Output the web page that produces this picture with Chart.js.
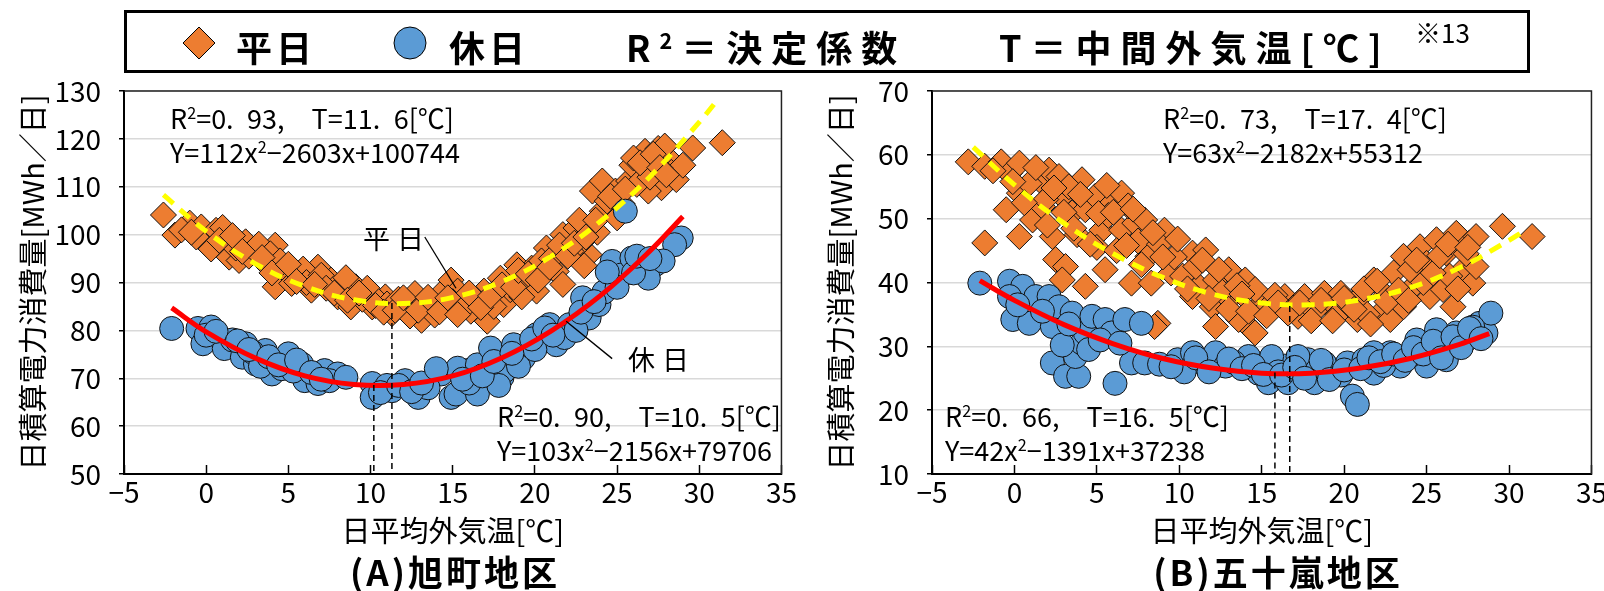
<!DOCTYPE html>
<html>
<head>
<meta charset="utf-8">
<script src="https://cdn.jsdelivr.net/npm/chart.js@4.4.1/dist/chart.umd.min.js"></script>
<style>
  html, body { margin: 0; padding: 0; background: #fff; }
  body { width: 1604px; height: 591px; position: relative; overflow: hidden;
         font-family: "Noto Sans CJK JP", "Noto Sans", sans-serif; color: #000; }
  canvas { position: absolute; top: 0; }
  .t { position: absolute; white-space: nowrap; line-height: 1; transform: translateY(-50%); }
  .ann { font-size: 27px; }
  .lbl { font-size: 27px; letter-spacing: 7px; }
  .leg { font-size: 36px; font-weight: bold; letter-spacing: 4px; }
  .wide { letter-spacing: 9px; }
  .sub { font-size: 35px; font-weight: bold; letter-spacing: 3px; transform: translate(-50%, -50%); }
  sup { font-size: 0.6em; vertical-align: 0.6em; line-height: 0; }
  #box { position: absolute; left: 124px; top: 10px; width: 1400px; height: 57px; border: 3px solid #000; }
  svg { position: absolute; }
</style>
</head>
<body>
<canvas id="chartA" width="808" height="591" style="left:0"></canvas>
<canvas id="chartB" width="810" height="591" style="left:808px"></canvas>

<div id="box"></div>
<svg style="left:182px;top:26px" width="34" height="34"><polygon points="17,1 33,17 17,33 1,17" fill="#ED7D31" stroke="#000" stroke-width="1"/></svg>
<div class="t leg" style="left:236px;top:46px">平日</div>
<svg style="left:393px;top:26px" width="34" height="34"><circle cx="17" cy="17" r="16" fill="#5B9BD5" stroke="#000" stroke-width="1"/></svg>
<div class="t leg" style="left:449px;top:46px">休日</div>
<div class="t leg wide" style="left:626px;top:46px">R<sup>2</sup>＝決定係数</div>
<div class="t leg wide" style="left:999px;top:46px">T＝中間外気温[℃]</div>
<div class="t" style="left:1415px;top:32px;font-size:26px">※13</div>

<div class="t ann" style="left:170px;top:117px">R<sup>2</sup>=0.&#8194;93,&#8195;T=11.&#8194;6[℃]</div>
<div class="t ann" style="left:170px;top:151px">Y=112x<sup>2</sup>−2603x+100744</div>
<div class="t ann" style="left:497px;top:415px">R<sup>2</sup>=0.&#8194;90,&#8195;T=10.&#8194;5[℃]</div>
<div class="t ann" style="left:497px;top:449px">Y=103x<sup>2</sup>−2156x+79706</div>
<div class="t lbl" style="left:363px;top:237px">平日</div>
<div class="t lbl" style="left:628px;top:358px">休日</div>

<div class="t ann" style="left:1163px;top:117px">R<sup>2</sup>=0.&#8194;73,&#8195;T=17.&#8194;4[℃]</div>
<div class="t ann" style="left:1163px;top:151px">Y=63x<sup>2</sup>−2182x+55312</div>
<div class="t ann" style="left:945px;top:415px">R<sup>2</sup>=0.&#8194;66,&#8195;T=16.&#8194;5[℃]</div>
<div class="t ann" style="left:945px;top:449px">Y=42x<sup>2</sup>−1391x+37238</div>

<div class="t sub" style="left:455px;top:570px">(A)旭町地区</div>
<div class="t sub" style="left:1278px;top:570px">(B)五十嵐地区</div>

<script>
// axis ranges
const xRange = [-5, 35];
const aYRange = [50, 130];
const bYRange = [10, 70];

// (A) 旭町 weekday
const aWdX = [-2.6,-1.9,-1.0,-0.3,0.0,0.6,1.2,1.4,2.4,2.0,2.9,4.2,3.6,4.2,4.8,5.6,6.8,6.4,7.6,8.0,9.1,8.8,10.1,10.9,11.3,12.1,12.7,13.1,13.7,14.5,14.9,14.5,15.3,16.1,17.1,16.9,17.9,18.1,18.9,19.5,20.1,20.7,21.3,21.7,21.7,22.5,23.3,22.9,23.5,24.1,24.1,24.9,25.7,26.5,26.7,27.3,27.7,28.1,26.9,29.6,31.4,
  -0.6,0.3,1.0,1.8,2.6,3.2,3.9,4.5,5.2,5.9,6.1,7.0,7.3,8.3,8.5,9.5,9.8,10.5,11.0,11.7,12.4,13.3,13.9,15.0,15.6,16.4,17.5,18.5,19.2,19.8,20.4,21.0,22.2,22.7,23.0,23.8,24.4,25.3,25.9,26.2,27.0,27.5,28.3,28.6,29.0,26.0,27.9,
  -1.5,-0.9,0.8,1.6,2.2,3.4,4.0,5.0,5.5,6.6,7.8,8.6,9.3,10.3,10.8,11.5,12.0,12.9,13.5,14.2,14.7,15.3,16.0,16.7,17.3,18.0,18.7,19.0,19.6,20.2,20.9,21.5,22.0,22.4,23.1,23.7,24.6,25.0,25.5,26.4,27.2,27.6,28.0];
const aWdY = [104.1,99.9,102.4,101.6,98.1,100.9,99.2,95.3,98.5,94.6,96.7,97.8,94.0,89.1,92.6,91.2,93.2,88.4,90.5,87.0,89.1,84.9,84.9,87.0,83.5,84.9,87.7,82.1,84.9,88.4,90.5,85.4,88.2,84.0,81.9,88.2,90.9,85.4,93.7,90.9,88.2,97.2,92.3,89.6,100.0,101.4,95.8,98.6,109.1,111.2,104.9,109.1,111.2,112.6,117.4,114.7,109.8,116.0,109.1,118.1,119.2,
  99.5,97.0,101.5,97.2,95.5,98.0,96.0,94.5,89.8,92.8,90.0,91.5,88.8,88.5,91.0,86.5,88.8,86.0,85.5,86.5,83.0,86.0,83.2,86.0,84.5,86.5,85.0,88.5,87.0,93.0,94.5,95.0,96.5,103.0,93.5,100.5,107.0,106.5,114.5,110.5,112.0,118.0,113.0,111.5,114.5,116.0,118.5,
  101.0,100.5,98.8,99.8,96.5,95.2,92.0,93.8,90.2,89.6,87.8,86.3,87.8,85.2,83.8,84.2,86.8,84.2,86.9,83.9,86.8,83.3,87.8,84.8,87.2,89.5,89.0,92.5,91.8,90.5,93.2,97.8,95.5,98.2,99.5,103.0,108.0,103.5,109.5,115.0,116.8,114.0,112.5];
// (A) 旭町 holiday
const aHdX = [-2.1,-0.5,-0.2,0.3,0.9,1.1,2.4,2.2,3.0,3.6,4.0,4.2,5.0,5.8,6.0,7.2,8.0,6.8,10.1,10.1,11.3,12.1,12.9,14.3,14.9,15.2,16.5,15.9,17.1,18.0,18.3,19.5,20.5,21.4,15.3,16.5,17.3,18.1,18.7,19.3,20.1,20.9,21.3,22.1,22.9,23.3,23.9,24.7,25.3,25.9,26.5,27.3,25.5,28.9,28.5,26.9,
  1.6,2.8,3.3,4.6,5.3,7.5,11.0,13.5,16.0,17.8,19.0,20.0,21.8,24.2,25.0,26.0,27.8,22.5,
  0.0,0.6,1.9,2.6,3.8,4.4,5.5,6.4,7.0,8.5,10.6,11.7,12.5,13.1,14.0,15.6,16.8,17.5,18.6,19.8,20.6,21.1,22.8,23.6,24.4,26.2,27.0];
const aHdY = [80.4,80.4,77.2,80.7,78.3,76.2,77.2,74.4,73.0,75.8,70.9,73.7,75.1,73.0,69.5,71.6,70.9,68.9,68.9,66.0,67.4,69.5,66.0,70.9,66.0,66.7,66.7,71.6,73.0,70.2,74.4,75.8,77.9,79.3,72.1,72.8,76.3,71.4,77.0,74.2,79.1,81.2,77.0,81.2,86.8,82.6,85.4,94.4,91.6,95.1,93.0,93.7,104.9,99.3,97.9,90.9,
  78.0,75.5,72.5,72.0,71.5,69.5,68.5,68.0,69.0,68.5,72.5,76.0,78.5,88.0,89.0,92.0,94.5,80.0,
  79.0,79.8,77.8,76.0,74.5,72.8,73.8,71.2,69.8,70.2,67.0,68.5,67.2,69.0,72.0,69.8,70.5,73.5,75.2,78.2,80.5,79.0,83.8,86.0,92.2,95.5,95.0];
// (A) fitted curves
const aWdFitX = [-2.6,0,3,6,9,12,15,18,21,24,27,30,31.2];
const aWdFitY = [108.3,100.7,93.9,89.2,86.4,85.6,86.9,90.2,95.5,102.8,112.1,123.5,128.5];
const aHdFitX = [-2.1,0,3,6,9,12,15,18,21,24,27,29];
const aHdFitY = [84.7,79.7,74.2,70.5,68.7,68.7,70.5,74.3,79.9,87.3,96.6,103.8];
// (A) dashed markers at the minimum temperature, and label leaders
const aMinX = [10.2, 11.3];
const aMinY = [68.6, 85.7];
const aLeadX = [[13.3, 15.2], [24.7, 21.9]];
const aLeadY = [[99.5, 88.8], [74.1, 81.9]];

// (B) 五十嵐 weekday
const bWdX = [-2.8,-1.8,-1.8,-0.8,-0.3,0.3,-0.5,0.3,1.1,1.5,1.7,0.3,2.1,2.7,2.3,2.5,3.1,2.9,3.5,4.1,4.3,4.9,5.3,4.3,5.5,5.9,6.5,6.5,7.3,7.9,7.1,8.1,8.7,9.1,8.3,9.5,10.8,11.6,11.2,12.0,10.8,12.2,13.0,14.0,13.2,14.4,13.6,15.0,12.2,8.5,2.9,
  14.6,14.6,15.4,16.4,17.2,17.6,18.8,19.2,19.8,20.8,21.0,21.8,22.2,22.8,23.0,23.6,23.6,24.2,24.6,25.0,25.2,25.6,26.0,26.2,26.8,26.6,27.2,27.6,28.0,27.8,28.0,29.6,31.4,
  0.9,1.9,3.3,3.8,5.0,5.7,6.2,6.9,7.5,8.8,9.7,10.2,11.0,12.6,13.5,15.8,16.9,18.2,19.6,20.3,21.4,22.5,24.0,24.8,26.4,27.4,
  -1.3,-0.1,0.6,1.3,2.0,2.4,3.0,3.6,4.0,4.6,5.1,5.6,6.0,6.8,7.2,7.7,8.4,9.0,9.9,10.5,11.4,11.8,12.4,13.0,13.8,14.2,15.3,16.0,16.6,17.3,18.0,18.6,19.3,20.0,20.6,21.2,21.6,22.0,22.6,23.3,23.9,24.4,25.4,25.8,26.3,26.9,27.5];
const bWdY = [58.9,58.2,46.2,58.9,57.1,58.7,51.4,54.0,49.8,56.1,51.9,47.2,57.6,56.6,47.2,43.6,42.5,53.5,50.9,56.1,51.4,53.5,48.2,39.4,42.0,52.4,54.0,48.2,49.3,49.8,39.9,44.1,33.6,48.2,39.9,41.5,44.6,45.1,39.4,36.2,37.8,40.4,42.0,40.4,37.8,32.6,34.2,36.8,33.1,33.1,40.4,
  38.9,32.1,36.2,37.8,34.7,37.8,38.3,36.2,38.3,34.2,37.8,40.4,35.2,34.2,41.5,44.1,36.2,39.4,45.6,43.0,37.8,46.7,38.9,44.6,47.7,36.2,42.0,46.2,47.2,39.9,42.5,48.8,47.2,
  55.5,53.0,55.0,47.5,45.5,50.5,45.0,52.0,46.5,46.0,44.0,41.0,42.5,38.5,39.5,38.0,36.0,35.5,35.0,36.5,35.0,38.0,42.0,40.0,41.0,44.5,
  57.5,55.8,52.5,58.0,49.0,54.8,51.0,48.5,53.8,46.0,50.8,55.2,51.0,45.8,51.5,42.8,47.8,44.0,46.8,39.0,43.5,37.5,42.0,35.8,38.2,35.5,34.8,36.8,35.2,36.8,34.0,37.2,34.0,37.5,35.8,39.0,33.5,40.2,37.0,38.8,37.2,43.5,41.5,44.2,46.0,39.0,45.5];
// (B) 五十嵐 holiday
const bHdX = [-2.1,-0.3,0.5,-0.3,-0.1,0.9,1.3,2.1,2.3,2.7,3.5,2.3,3.1,3.9,3.7,4.1,4.3,4.7,6.1,5.5,5.9,6.7,7.7,7.1,7.9,9.9,10.8,11.4,12.2,12.8,14.2,14.8,15.4,15.4,14.8,16.6,18.4,20.5,20.8,
  16.4,17.8,18.2,19.4,20.2,21.2,21.8,22.8,23.4,24.4,25.0,25.6,26.2,26.2,26.8,27.4,28.2,28.6,28.9,15.6,17.2,18.8,21.8,
  10.3,13.3,16.0,19.8,22.4,24.0,25.3,27.8,
  0.2,1.7,2.9,3.3,4.5,5.2,6.4,8.8,9.5,11.0,11.8,13.0,13.8,14.5,15.1,16.2,17.0,17.6,18.6,19.1,20.0,21.0,21.5,22.2,23.0,23.7,24.2,24.8,25.4,25.9,26.6,27.1,27.6,28.3];
const bHdY = [39.9,40.2,39.4,37.8,34.2,33.6,37.8,37.8,33.1,36.2,35.2,27.4,25.3,25.3,28.4,30.5,32.1,34.7,24.2,34.2,32.1,34.2,33.6,27.4,27.4,27.9,29.0,27.4,29.0,26.9,28.4,26.3,27.4,24.3,25.8,24.3,25.3,22.2,20.9,
  26.9,27.9,24.3,26.3,27.4,27.9,25.8,29.0,26.9,31.0,26.9,32.6,30.5,27.9,32.1,31.0,33.6,32.1,35.2,28.4,28.4,27.4,29.0,
  26.0,27.5,26.0,25.5,27.0,28.5,29.5,33.0,
  36.5,35.5,30.2,33.5,29.5,31.0,30.5,27.2,26.8,28.2,26.0,28.0,26.5,27.0,25.6,25.5,26.7,25.0,27.8,24.8,26.3,26.5,28.2,27.6,28.8,27.8,29.8,28.8,30.8,28.2,31.5,29.8,32.8,31.2];
// (B) fitted curves
const bWdFitX = [-2.5,0,3,6,9,12,15,18,21,24,27,30,31];
const bWdFitY = [61.2,55.3,49.3,44.5,40.8,38.2,36.8,36.5,37.3,39.2,42.3,46.6,48.2];
const bHdFitX = [-2.1,0,3,6,9,12,15,18,21,24,27,28.8];
const bHdFitY = [40.3,37.2,33.4,30.4,28.1,26.6,25.8,25.8,26.6,28.1,30.3,32.0];
const bMinX = [15.8, 16.7];
const bMinY = [25.9, 36.3];

Chart.defaults.font.family = '"Noto Sans CJK JP", "Noto Sans", sans-serif';
Chart.defaults.color = '#000';
Chart.defaults.animation = false;

const pts = (xs, ys) => xs.map((x, i) => ({ x: x, y: ys[i] }));

// top and right edge of the plot box
const framePlugin = {
  id: 'frame',
  afterDraw(chart) {
    const { ctx, chartArea: a } = chart;
    ctx.save();
    ctx.strokeStyle = '#222';
    ctx.lineWidth = 1.5;
    ctx.beginPath();
    ctx.moveTo(a.left, a.top);
    ctx.lineTo(a.right, a.top);
    ctx.lineTo(a.right, a.bottom);
    ctx.stroke();
    ctx.restore();
  }
};

function makeChart(id, s) {
  const datasets = [];
  s.minX.forEach((x, i) => {
    datasets.push({ type: 'line', data: [{ x: x, y: s.minY[i] }, { x: x, y: s.yRange[0] }],
      borderColor: '#000', borderWidth: 1.5, borderDash: [6, 4], pointRadius: 0, order: 0 });
  });
  (s.leadX || []).forEach((xs, i) => {
    datasets.push({ type: 'line', data: pts(xs, s.leadY[i]),
      borderColor: '#000', borderWidth: 1.3, pointRadius: 0, order: 0 });
  });
  datasets.push({ type: 'line', data: pts(s.wdFitX, s.wdFitY), borderColor: '#FFFF00', borderWidth: 5,
    borderDash: [13, 9], pointRadius: 0, tension: 0.4, order: 1 });
  datasets.push({ type: 'line', data: pts(s.hdFitX, s.hdFitY), borderColor: '#FF0000', borderWidth: 5,
    pointRadius: 0, tension: 0.4, order: 1 });
  datasets.push({ label: '休日', data: pts(s.hdX, s.hdY), pointStyle: 'circle', pointRadius: 12,
    backgroundColor: '#5B9BD5', borderColor: '#111', borderWidth: 1, order: 2 });
  datasets.push({ label: '平日', data: pts(s.wdX, s.wdY), pointStyle: 'rectRot', pointRadius: 13,
    backgroundColor: '#ED7D31', borderColor: '#111', borderWidth: 1, order: 3 });

  return new Chart(document.getElementById(id), {
    type: 'scatter',
    data: { datasets: datasets },
    plugins: [framePlugin],
    options: {
      responsive: false,
      devicePixelRatio: 1,
      events: [],
      layout: { padding: { left: 0, top: 91, right: s.padRight, bottom: 0 } },
      plugins: { legend: { display: false }, tooltip: { enabled: false } },
      scales: {
        x: {
          type: 'linear', min: xRange[0], max: xRange[1],
          ticks: { stepSize: 5, padding: 11, font: { size: 28 },
                   callback: v => String(v).replace('-', '−') },
          grid: { drawOnChartArea: false, tickLength: -9, tickColor: '#000', tickWidth: 1.5 },
          border: { color: '#000', width: 2 },
          title: { display: true, text: '日平均外気温[℃]', font: { size: 29 }, padding: { top: 0, bottom: 43 } },
          afterFit: sc => { sc.height = 117; }
        },
        y: {
          min: s.yRange[0], max: s.yRange[1],
          ticks: { stepSize: 10, padding: 18, font: { size: 28 } },
          grid: { color: '#d9d9d9', lineWidth: 1.5, tickLength: 5, tickColor: '#000', tickWidth: 1.5 },
          border: { color: '#000', width: 2 },
          title: { display: true, text: '日積算電力消費量[MWh／日]', font: { size: 29 }, padding: { top: 16, bottom: 0 } },
          afterFit: sc => { sc.width = 124; }
        }
      }
    }
  });
}

makeChart('chartA', {
  yRange: aYRange, padRight: 21,
  wdX: aWdX, wdY: aWdY, hdX: aHdX, hdY: aHdY,
  wdFitX: aWdFitX, wdFitY: aWdFitY, hdFitX: aHdFitX, hdFitY: aHdFitY,
  minX: aMinX, minY: aMinY, leadX: aLeadX, leadY: aLeadY
});
makeChart('chartB', {
  yRange: bYRange, padRight: 22,
  wdX: bWdX, wdY: bWdY, hdX: bHdX, hdY: bHdY,
  wdFitX: bWdFitX, wdFitY: bWdFitY, hdFitX: bHdFitX, hdFitY: bHdFitY,
  minX: bMinX, minY: bMinY
});
</script>
</body>
</html>
